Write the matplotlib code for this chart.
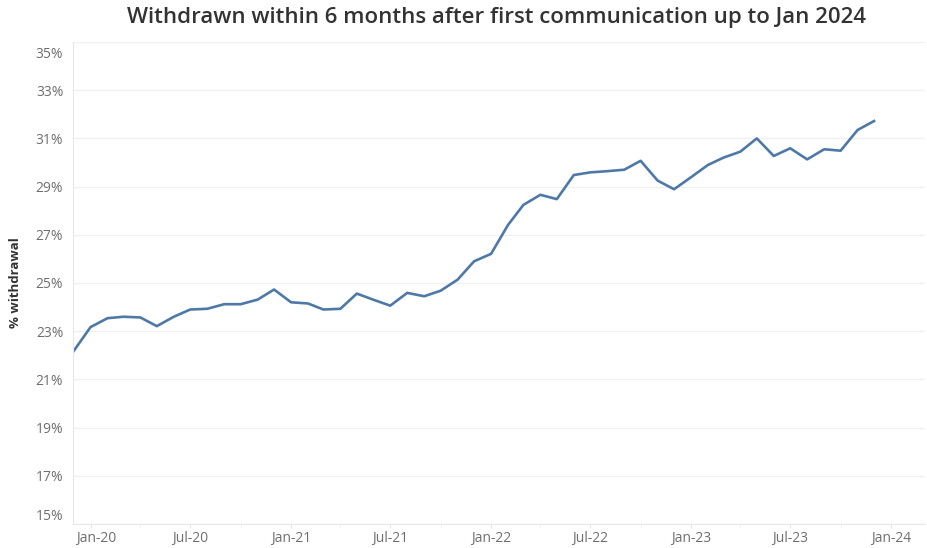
import matplotlib
matplotlib.use("Agg")
import matplotlib.pyplot as plt
import matplotlib.dates as mdates
import matplotlib.transforms as mtransforms
from matplotlib.ticker import FixedLocator, FuncFormatter
import numpy as np
import pandas as pd

# monthly % withdrawn within 6 months, Dec 2019 .. Dec 2023
months = pd.date_range("2019-12-01", "2023-12-01", freq="MS")
withdrawal = [
    22.17,                                                       # Dec-19
    23.17, 23.54, 23.60, 23.57, 23.21, 23.60,                    # Jan-Jun 20
    23.90, 23.93, 24.12, 24.12, 24.31, 24.73,                    # Jul-Dec 20
    24.20, 24.15, 23.90, 23.93, 24.56, 24.30,                    # Jan-Jun 21
    24.06, 24.59, 24.45, 24.68, 25.14, 25.90,                    # Jul-Dec 21
    26.21, 27.41, 28.24, 28.66, 28.48, 29.48,                    # Jan-Jun 22
    29.59, 29.64, 29.70, 30.07, 29.25, 28.89,                    # Jul-Dec 22
    29.39, 29.90, 30.20, 30.45, 31.00, 30.27,                    # Jan-Jun 23
    30.59, 30.13, 30.55, 30.49, 31.35, 31.72,                    # Jul-Dec 23
]
yticks = list(range(15, 36, 2))
title = "Withdrawn within 6 months after first communication up to Jan 2024"
ylabel = "% withdrawal"

plt.rcParams["font.family"] = ["Open Sans", "DejaVu Sans"]
GREY = "#6e6e6e"

fig = plt.figure(figsize=(9.28, 5.48), dpi=100)
ax = fig.add_axes([73/928, 1-524/548, (925-73)/928, (524-42)/548])

ax.plot(months, withdrawal, color="#4e79a7", lw=1.9, solid_joinstyle="round")

ax.set_ylim(15, 35)
ax.set_xlim(pd.Timestamp("2019-11-30"), pd.Timestamp("2024-03-03"))
ax.yaxis.set_major_locator(FixedLocator(yticks))
ax.yaxis.set_major_formatter(FuncFormatter(lambda v, p: f"{v:.0f}%"))
ax.grid(axis="y", color="#f0f0f0", lw=1)
ax.set_axisbelow(True)

ax.xaxis.set_major_locator(mdates.MonthLocator(bymonth=[1, 7]))
ax.xaxis.set_minor_locator(mdates.MonthLocator(bymonth=[4, 10]))
ax.xaxis.set_major_formatter(mdates.DateFormatter("%b-%y"))

for s in ["top", "right"]:
    ax.spines[s].set_visible(False)
for s in ["left", "bottom"]:
    ax.spines[s].set_color("#e8e8e8")
ax.tick_params(axis="y", length=0, pad=7, labelsize=10, labelcolor=GREY)
ax.tick_params(axis="x", which="major", length=3, color="#e8e8e8", pad=2,
               labelsize=10, labelcolor=GREY)
ax.tick_params(axis="x", which="minor", length=3, color="#f0f0f0")

# keep edge labels inside the plot like the original
fig.canvas.draw()
ylabs = ax.get_yticklabels()
ylabs[-1].set_transform(ylabs[-1].get_transform() +
                        mtransforms.ScaledTranslation(0, -10/100, fig.dpi_scale_trans))
ylabs[0].set_transform(ylabs[0].get_transform() +
                       mtransforms.ScaledTranslation(0, 9/100, fig.dpi_scale_trans))
xlabs = ax.get_xticklabels()
xlabs[0].set_transform(xlabs[0].get_transform() +
                       mtransforms.ScaledTranslation(6/100, 0, fig.dpi_scale_trans))

ax.set_ylabel(ylabel, fontsize=9.5, color="#333333", fontweight="bold", labelpad=10)
fig.text(497/928, 1-18/548, title, ha="center", va="center",
         fontsize=16, fontweight="semibold", color="#333333")

fig.savefig("out.png", dpi=100)
